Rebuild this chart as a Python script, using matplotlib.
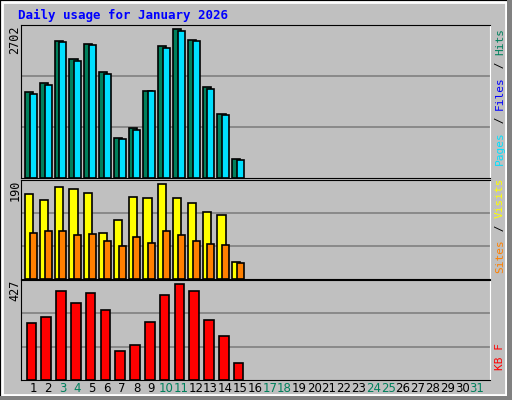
import matplotlib.pyplot as plt
from matplotlib.patches import Rectangle

days = list(range(1, 16))
hits = [1511, 1671, 2418, 2098, 2364, 1867, 711, 889, 1529, 2329, 2631, 2435, 1600, 1138, 338]
files = [1488, 1648, 2394, 2074, 2346, 1831, 693, 853, 1529, 2288, 2590, 2412, 1577, 1115, 315]
visits = [164, 151, 176, 172, 166, 88, 113, 157, 155, 182, 155, 145, 128, 122, 32]
sites = [88, 92, 93, 84, 86, 72, 63, 80, 69, 92, 84, 72, 67, 65, 30]
kbytes = [242, 268, 379, 328, 370, 298, 123, 148, 246, 362, 409, 379, 255, 187, 71]
max_hits, max_visits, max_kb = 2702, 190, 427
weekend = [3, 4, 10, 11, 17, 18, 24, 25, 31]

W, H = 512, 400
fig = plt.figure(figsize=(W / 100, H / 100), dpi=100)
fig.patch.set_facecolor('#C0C0C0')
# bevelled frame
fig.add_artist(Rectangle((0, 0), 1, 1, transform=fig.transFigure, fill=False, ec='black', lw=2))
fig.add_artist(Rectangle((2 / W, 5 / H), 1 - 8 / W, 1 - 7 / H, transform=fig.transFigure,
                         fill=False, ec='white', lw=2))
fig.add_artist(Rectangle((0, 0), 1, 4 / H, transform=fig.transFigure, color='#808080', lw=0))
fig.add_artist(Rectangle((1 - 5 / W, 0), 5 / W, 1, transform=fig.transFigure, color='#808080', lw=0))

x0, x1 = 21, 490
dx = 14.8
xlim = (1 - (33 - x0) / dx, 1 + (x1 - 33) / dx)


def panel(top, bottom, ymax):
    ax = fig.add_axes([x0 / W, 1 - bottom / H, (x1 - x0) / W, (bottom - top) / H])
    ax.set_facecolor('#C0C0C0')
    ax.set_xlim(*xlim)
    ax.set_ylim(0, ymax)
    for v in (ymax / 3, 2 * ymax / 3):
        ax.axhline(v, color='#808080', lw=1.2, zorder=0)
    ax.set_xticks([])
    ax.set_yticks([])
    for s in ax.spines.values():
        s.set_color('black')
    ax.spines['right'].set_color('white')
    return ax


ax1 = panel(25, 178, max_hits)
ax1.bar([d - 0.54 for d in days], hits, width=0.56, align='edge', color='#00805C', ec='black', lw=1.2)
ax1.bar([d - 0.22 for d in days], files, width=0.47, align='edge', color='#00E0FF', ec='black', lw=1.2)

ax2 = panel(180, 279, max_visits)
ax2.bar([d - 0.54 for d in days], visits, width=0.56, align='edge', color='#FFFF00', ec='black', lw=1.2)
ax2.bar([d - 0.22 for d in days], sites, width=0.47, align='edge', color='#FF8000', ec='black', lw=1.2)

ax3 = panel(280, 380, max_kb)
ax3.bar([d - 0.43 for d in days], kbytes, width=0.65, align='edge', color='#FF0000', ec='black', lw=1.2)

fig.text(18 / W, 1 - 15 / H, 'Daily usage for January 2026', color='#0000FF',
         family='DejaVu Sans Mono', weight='bold', fontsize=9, va='center')

for y, lab in [(25, str(max_hits)), (180, str(max_visits)), (280, str(max_kb))]:
    fig.text(15 / W, 1 - y / H, lab, rotation=90, ha='center', va='top', fontsize=8.5,
             family='DejaVu Sans Mono')

for d in range(1, 32):
    fig.text((33 + (d - 1) * dx) / W, 1 - 388 / H, str(d), ha='center', va='center', fontsize=8.5,
             color='#00805C' if d in weekend else 'black')


def side_label(parts, y_bottom):
    y = y_bottom
    for txt, col in parts:
        fig.text(500 / W, 1 - y / H, txt, rotation=90, ha='center', va='bottom', color=col,
                 fontsize=8, family='DejaVu Sans Mono')
        y -= len(txt) * 6.9


side_label([('Pages', '#00E0FF'), (' / ', 'black'), ('Files', '#0000FF'), (' / ', 'black'), ('Hits', '#00805C')], 165)
side_label([('Sites', '#FF8000'), (' / ', 'black'), ('Visits', '#FFFF00')], 273)
side_label([('KB F', '#FF0000')], 370)

fig.savefig('out.png', dpi=100, facecolor=fig.get_facecolor())
